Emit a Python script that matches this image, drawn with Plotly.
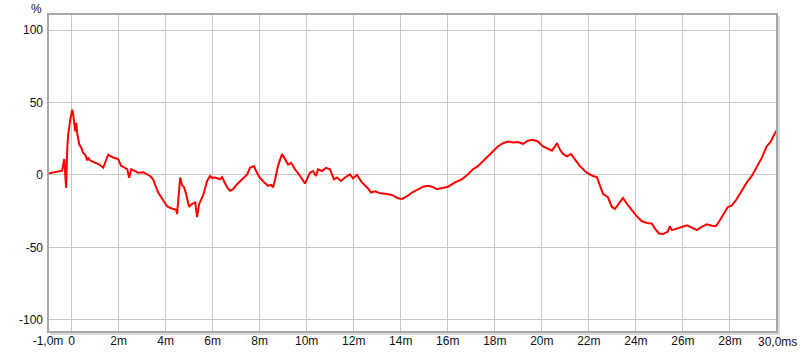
import plotly.graph_objects as go

time_ms = [-1.0, -0.40, -0.31, -0.23, -0.18, -0.14, -0.055, 0.03, 0.07, 0.16, 0.20, 0.24, 0.33, 0.41,
           0.50, 0.58, 0.67, 0.71, 0.79, 1.01, 1.18, 1.35, 1.47, 1.56, 1.77, 1.98, 2.11, 2.37, 2.45,
           2.54, 2.83, 3.05, 3.34, 3.47, 3.68, 3.85, 4.07, 4.24, 4.45, 4.49, 4.53, 4.62, 4.70, 4.79,
           4.87, 5.00, 5.13, 5.26, 5.34, 5.43, 5.60, 5.68, 5.77, 5.89, 5.98, 6.11, 6.32, 6.40, 6.49,
           6.62, 6.74, 6.87, 7.04, 7.25, 7.47, 7.59, 7.76, 7.85, 7.98, 8.19, 8.36, 8.49, 8.57, 8.66,
           8.78, 8.95, 9.08, 9.21, 9.34, 9.50, 9.72, 9.93, 10.14, 10.27, 10.40, 10.48, 10.65, 10.82,
           10.99, 11.16, 11.29, 11.46, 11.63, 11.84, 11.97, 12.14, 12.35, 12.57, 12.74, 12.91, 13.12,
           13.42, 13.67, 13.88, 14.05, 14.27, 14.48, 14.73, 14.95, 15.16, 15.33, 15.54, 15.80, 16.01,
           16.31, 16.60, 16.86, 17.07, 17.28, 17.50, 17.71, 17.92, 18.13, 18.35, 18.56, 18.77, 18.98,
           19.20, 19.41, 19.62, 19.83, 20.05, 20.26, 20.43, 20.56, 20.64, 20.77, 20.90, 21.07, 21.24,
           21.36, 21.62, 21.91, 22.17, 22.34, 22.47, 22.60, 22.81, 22.98, 23.11, 23.28, 23.45, 23.62,
           23.83, 24.04, 24.26, 24.47, 24.68, 24.81, 24.98, 25.15, 25.36, 25.44, 25.53, 25.74, 25.95,
           26.17, 26.38, 26.59, 26.80, 27.02, 27.23, 27.40, 27.57, 27.74, 27.91, 28.08, 28.29, 28.50,
           28.72, 28.93, 29.14, 29.35, 29.56, 29.74, 29.91, 30.0]

percent = [1, 3, 11, -9, 19, 28, 38, 45, 42, 30, 36, 29, 21, 19,
           15, 14, 10, 12, 10, 8.4, 7.2, 5, 11, 14, 12, 11, 6.3, 4, -2,
           4, 1.6, 1.9, -0.7, -3, -12, -16.6, -21.8, -23, -24, -27, -20, -1.8, -7, -8.6,
           -13, -22, -20, -19, -29, -20, -14, -8.6, -4, -0.7, -2, -1.8, -3, -1.4, -4,
           -8.6, -10.9, -9.8, -6.4, -3, 0.4, 5, 6.1, 2.7, -1.4, -5.1, -7.5, -6.8, -8.6, -3,
           6.1, 14.5, 10.7, 7.2, 8.4, 3.9, -0.7, -5.9, 1.6, 2.7, -0.7, 3.9, 2.7, 4.9,
           3.9, -3, -1.8, -4.1, -1.8, 0.4, -2.3, 0, -5.1, -8.6, -12.1, -11.3, -12.7,
           -13.1, -14.1, -16.1, -16.6, -14.7, -12.1, -9.8, -8.1, -7.5, -8.1, -9.8, -8.6, -8.1,
           -5.1, -3, 0.4, 3.9, 6.1, 9.5, 12.9, 16.3, 19.7, 21.9, 23.1, 22.4, 22.7,
           21.5, 23.6, 24.3, 23.1, 19.7, 18.1, 16.8, 19.7, 21.9, 17.5, 14.5, 12.9, 14.5,
           11.8, 6.1, 1.6, -0.7, -1.4, -7.5, -13.1, -15.4, -22.1, -23.4, -19.5, -15.9, -20,
           -24.5, -28.6, -32, -33.1, -33.6, -37, -40.4, -40.8, -39.1, -35.4, -38.1, -37, -35.8,
           -34.7, -36.3, -38.1, -35.8, -34, -35.1, -35.4, -31.3, -26.8, -22.1, -21.1, -16.6, -10.9,
           -5.1, -0.7, 5.4, 11.8, 19.7, 23.1, 28.8, 31]

x_tickvals = [-1, 0, 2, 4, 6, 8, 10, 12, 14, 16, 18, 20, 22, 24, 26, 28]
x_ticktext = ["-1,0m", "0", "2m", "4m", "6m", "8m", "10m", "12m", "14m", "16m", "18m",
              "20m", "22m", "24m", "26m", "28m"]
y_tickvals = [-100, -50, 0, 50, 100]
y_ticktext = ["-100", "-50", "0", "50", "100"]

W, H = 800, 360
ML, MR, MT, MB = 48, 23, 14, 23
PW, PH = W - ML - MR, H - MT - MB

fig = go.Figure()
fig.add_trace(go.Scatter(x=time_ms, y=percent, mode="lines",
                         line=dict(color="#ff0000", width=2), hoverinfo="skip"))

font = dict(family="Liberation Sans, Arial, sans-serif", size=12, color="#111111")

fig.update_layout(
    width=W, height=H,
    margin=dict(l=ML, r=MR, t=MT, b=MB, pad=0),
    paper_bgcolor="white", plot_bgcolor="white",
    showlegend=False,
    font=font,
    xaxis=dict(range=[-1, 30], tickvals=x_tickvals, ticktext=x_ticktext,
               showgrid=True, gridcolor="#c8c8c8", gridwidth=1,
               zeroline=False, showline=False, ticks="", tickfont=font),
    yaxis=dict(range=[-108.4, 111.1], tickvals=y_tickvals, ticktext=y_ticktext,
               showgrid=True, gridcolor="#c8c8c8", gridwidth=1,
               zeroline=False, showline=False, ticks="", tickfont=font,
               ticklabelstandoff=4),
)

dx, dy = 1.0 / PW, 1.0 / PH
# shadow on right and bottom
fig.add_shape(type="line", xref="paper", yref="paper", x0=1 + 2 * dx, x1=1 + 2 * dx,
              y0=-2 * dy, y1=1 - 2 * dy, line=dict(color="#dcdcdc", width=2), layer="below")
fig.add_shape(type="line", xref="paper", yref="paper", x0=2 * dx, x1=1 + 3 * dx,
              y0=-2 * dy, y1=-2 * dy, line=dict(color="#dcdcdc", width=2), layer="below")
fig.add_shape(type="rect", xref="paper", yref="paper", x0=0, x1=1, y0=0, y1=1,
              line=dict(color="#a8a8a8", width=2), layer="above")

fig.add_annotation(text="30,0ms", xref="paper", yref="paper", x=1, y=0,
                   xanchor="right", yanchor="top", xshift=22, yshift=-1,
                   showarrow=False, font=font)
fig.add_annotation(text="%", xref="paper", yref="paper", x=0, y=1,
                   xanchor="center", yanchor="top", xshift=-12, yshift=14,
                   showarrow=False, font=font)

fig.write_html("out.html")
